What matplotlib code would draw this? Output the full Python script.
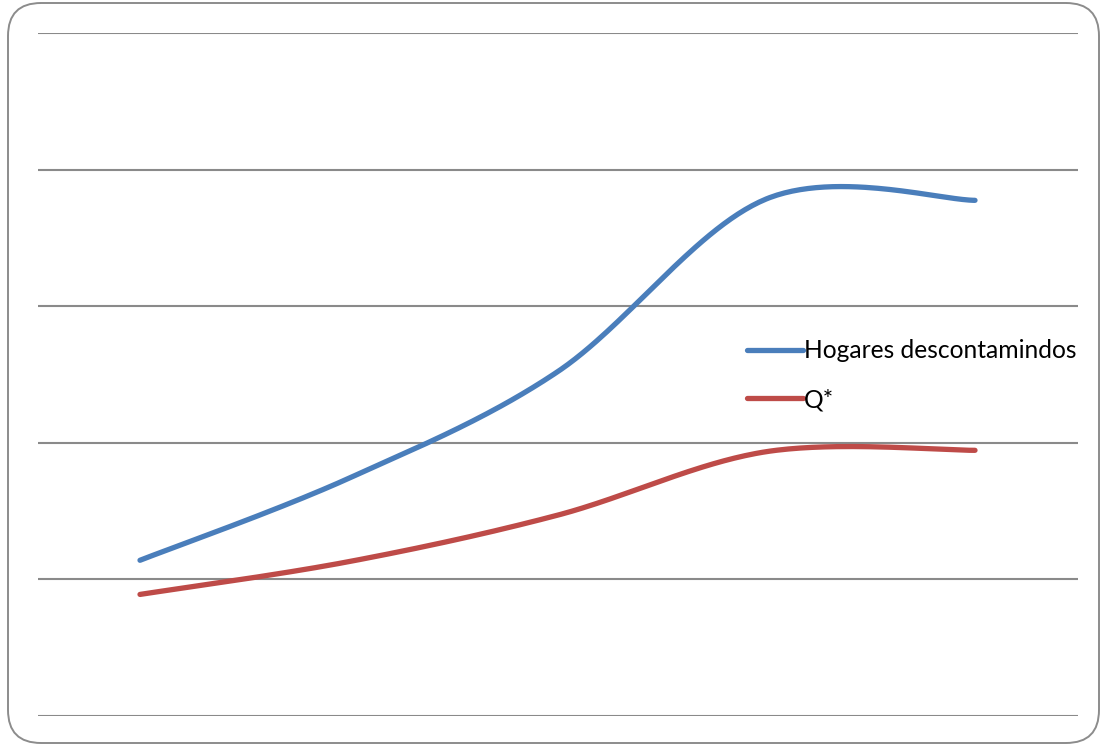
import numpy as np
import matplotlib
matplotlib.use("Agg")
import matplotlib.pyplot as plt
from matplotlib.patches import FancyBboxPatch

# Series values (five periods)
periods = [1, 2, 3, 4, 5]
hogares = [11.4, 17.4, 25.2, 37.85, 37.75]
q_star = [8.9, 11.3, 14.7, 19.35, 19.45]
labels = ["Hogares descontamindos", "Q*"]
colors = ["#4A7EBB", "#BE4B48"]


def smooth(xs, ys, n=60):
    """Bezier smoothing through every point (control points at 1/6 of the neighbour chord)."""
    xs = np.asarray(xs, float)
    ys = np.asarray(ys, float)
    px = np.concatenate([[xs[0]], xs, [xs[-1]]])
    py = np.concatenate([[ys[0]], ys, [ys[-1]]])
    out_x, out_y = [], []
    t = np.linspace(0, 1, n)
    for i in range(1, len(px) - 2):
        p0 = np.array([px[i], py[i]])
        p3 = np.array([px[i + 1], py[i + 1]])
        p1 = p0 + (np.array([px[i + 1], py[i + 1]]) - np.array([px[i - 1], py[i - 1]])) / 6
        p2 = p3 - (np.array([px[i + 2], py[i + 2]]) - np.array([px[i], py[i]])) / 6
        b = ((1 - t) ** 3)[:, None] * p0 + (3 * (1 - t) ** 2 * t)[:, None] * p1 \
            + (3 * (1 - t) * t ** 2)[:, None] * p2 + (t ** 3)[:, None] * p3
        if i > 1:
            b = b[1:]
        out_x.extend(b[:, 0])
        out_y.extend(b[:, 1])
    return np.array(out_x), np.array(out_y)


W, H = 1101, 745
fig = plt.figure(figsize=(W / 100, H / 100), dpi=100)

# Rounded outer frame
frame = FancyBboxPatch((8 / W, 2 / H), (1099 - 8) / W, (742 - 2) / H,
                       boxstyle="round,pad=0,rounding_size=0.03",
                       transform=fig.transFigure, facecolor="none",
                       edgecolor="#8C8C8C", linewidth=1.4, zorder=-1,
                       mutation_aspect=W / H)
fig.patches.append(frame)

ax = fig.add_axes([38 / W, 1 - 716 / H, (1078 - 38) / W, (716 - 33) / H])
ax.set_facecolor("none")

x_pos = np.arange(len(periods))
for ys, lab, c in zip([hogares, q_star], labels, colors):
    sx, sy = smooth(x_pos, ys)
    ax.plot(sx, sy, color=c, lw=3.8, solid_capstyle="round", label=lab, zorder=3)

step = (975 - 140) / (len(periods) - 1)
ax.set_xlim(-(140 - 38) / step, (len(periods) - 1) + (1078 - 975) / step)
ax.set_ylim(0, 50)
ax.set_yticks(np.arange(0, 51, 10))
ax.yaxis.grid(True, color="#8A8A8A", lw=1.5)
ax.set_axisbelow(True)
ax.tick_params(left=False, bottom=False, labelleft=False, labelbottom=False)
for s in ax.spines.values():
    s.set_visible(False)

leg = ax.legend(loc="upper left", bbox_to_anchor=(747 / W, 1 - 339.5 / H),
                bbox_transform=fig.transFigure, frameon=False,
                prop={"family": ["Lato", "DejaVu Sans"], "size": 17.7},
                handlelength=2.27, handletextpad=0.06, labelspacing=1.04,
                borderpad=0, borderaxespad=0)
for h in leg.get_lines():
    h.set_linewidth(3.8)
    h.set_solid_capstyle("round")

fig.savefig("out.png", dpi=100)
